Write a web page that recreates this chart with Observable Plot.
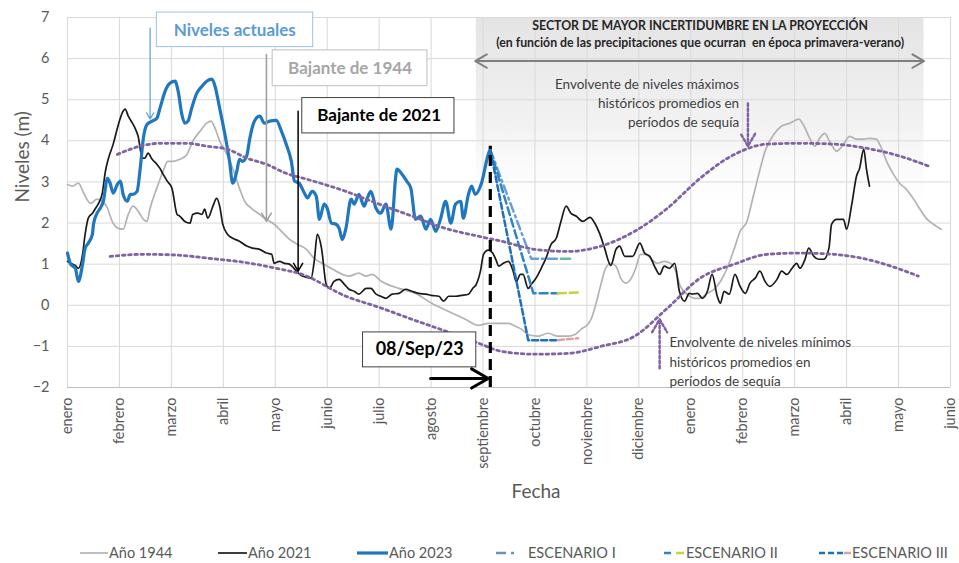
<!DOCTYPE html>
<html><head><meta charset="utf-8">
<script src="https://cdn.jsdelivr.net/npm/d3@7"></script>
<script src="https://cdn.jsdelivr.net/npm/@observablehq/plot@0.6"></script>
<style>
body{margin:0;background:#fff;font-family:Lato,"Open Sans",sans-serif;}
#chart{width:959px;height:563px;position:relative;overflow:hidden;}
#chart svg{display:block;}
.legend{position:relative;height:25px;margin-top:2px;}
.item{position:absolute;top:0;height:25px;display:flex;align-items:center;font-size:14.5px;color:#595959;white-space:nowrap;}
.item svg{margin-right:1px;}
</style></head>
<body><div id="chart"></div>
<script>
// ---------- data (x = months since enero, y = level in m) ----------
const monthLabels = ["enero","febrero","marzo","abril","mayo","junio","julio","agosto","septiembre","octubre","noviembre","diciembre","enero","febrero","marzo","abril","mayo","junio"];
const yTickValues = [-2,-1,0,1,2,3,4,5,6,7];

const ano1944 = [[0,2.94],[0.1,2.9],[0.21,2.97],[0.31,2.73],[0.44,2.48],[0.57,2.58],[0.67,2.53],[0.77,2.36],[0.86,2.04],[0.98,1.87],[1.07,1.85],[1.17,2.21],[1.26,2.41],[1.36,2.29],[1.46,2.09],[1.53,2.04],[1.59,2.36],[1.72,2.85],[1.84,3.26],[1.93,3.5],[2.03,3.5],[2.16,3.55],[2.3,3.67],[2.41,3.99],[2.55,4.23],[2.68,4.43],[2.76,4.48],[2.84,4.31],[2.93,3.99],[3.07,3.67],[3.18,3.33],[3.31,2.85],[3.41,2.53],[3.54,2.36],[3.7,2.21],[3.83,2.09],[3.95,2.0],[4.12,1.8],[4.27,1.61],[4.43,1.48],[4.6,1.36],[4.75,1.14],[4.94,1.0],[5.1,0.88],[5.42,0.71],[5.61,0.78],[5.75,0.71],[5.86,0.75],[6.05,0.58],[6.38,0.41],[6.7,0.29],[7.01,0.05],[7.34,-0.15],[7.66,-0.34],[7.91,-0.49],[8.1,-0.44],[8.3,-0.44],[8.49,-0.44],[8.62,-0.51],[8.74,-0.58],[8.87,-0.71],[9.06,-0.75],[9.25,-0.68],[9.44,-0.75],[9.64,-0.75],[9.77,-0.71],[9.89,-0.58],[10.02,-0.46],[10.08,-0.34],[10.17,0.02],[10.27,0.51],[10.36,0.9],[10.46,1.02],[10.56,0.95],[10.65,0.66],[10.75,0.54],[10.84,0.63],[10.94,0.9],[11.03,1.24],[11.13,1.24],[11.23,1.14],[11.36,1.02],[11.49,1.07],[11.61,1.02],[11.71,0.83],[11.8,0.46],[11.93,0.27],[12.07,0.17],[12.18,0.17],[12.32,0.29],[12.45,0.39],[12.57,0.58],[12.7,0.9],[12.84,1.39],[12.95,1.8],[13.08,2.04],[13.18,2.53],[13.31,3.19],[13.43,3.75],[13.6,4.16],[13.75,4.36],[13.91,4.43],[14.08,4.53],[14.18,4.36],[14.29,4.06],[14.39,3.87],[14.48,4.06],[14.58,4.18],[14.67,3.99],[14.81,3.75],[14.94,3.92],[15.06,4.11],[15.19,4.04],[15.33,4.04],[15.44,4.06],[15.57,4.04],[15.67,3.82],[15.77,3.5],[15.9,3.19],[16.02,2.97],[16.15,2.82],[16.28,2.6],[16.4,2.36],[16.53,2.12],[16.67,1.97],[16.82,1.85]];

const ano2021 = [[0,1.07],[0.06,1.02],[0.15,0.97],[0.21,0.9],[0.29,1.24],[0.34,1.73],[0.4,2.12],[0.48,2.24],[0.54,2.36],[0.59,2.46],[0.67,2.73],[0.73,3.26],[0.79,3.58],[0.88,3.92],[0.98,4.4],[1.05,4.67],[1.11,4.77],[1.17,4.6],[1.25,4.43],[1.3,4.31],[1.36,4.11],[1.44,3.58],[1.49,3.58],[1.55,3.7],[1.63,3.55],[1.72,3.43],[1.78,3.33],[1.84,3.19],[1.92,3.02],[2.01,2.85],[2.11,2.21],[2.16,2.17],[2.26,2.04],[2.36,2.0],[2.41,2.21],[2.51,2.24],[2.59,2.21],[2.64,2.34],[2.7,2.12],[2.8,2.41],[2.87,2.6],[2.93,2.41],[2.99,1.97],[3.08,1.73],[3.18,1.63],[3.31,1.56],[3.45,1.44],[3.56,1.39],[3.7,1.36],[3.83,1.27],[3.93,1.24],[3.98,1.02],[4.08,1.07],[4.18,1.02],[4.27,1.0],[4.41,0.83],[4.52,0.71],[4.69,0.66],[4.75,1.07],[4.81,1.73],[4.89,1.39],[4.98,0.51],[5.04,0.41],[5.13,0.58],[5.23,0.63],[5.33,0.51],[5.42,0.39],[5.52,0.34],[5.61,0.27],[5.75,0.41],[5.84,0.41],[5.94,0.27],[6.03,0.22],[6.13,0.17],[6.25,0.27],[6.38,0.29],[6.51,0.39],[6.63,0.34],[6.76,0.29],[6.9,0.27],[7.01,0.24],[7.15,0.22],[7.24,0.1],[7.34,0.22],[7.47,0.22],[7.59,0.24],[7.72,0.27],[7.8,0.41],[7.87,0.51],[7.95,0.83],[8.01,1.24],[8.1,1.34],[8.2,1.24],[8.26,1.07],[8.3,0.95],[8.39,1.02],[8.49,1.07],[8.58,0.83],[8.64,0.58],[8.72,0.75],[8.77,0.75],[8.87,0.41],[8.93,0.51],[9.02,0.66],[9.12,0.9],[9.21,1.14],[9.31,1.48],[9.41,1.63],[9.5,2.04],[9.6,2.41],[9.69,2.24],[9.79,2.17],[9.92,2.04],[10.06,2.14],[10.15,2.0],[10.25,1.73],[10.34,1.39],[10.46,0.97],[10.56,1.36],[10.63,1.44],[10.73,1.19],[10.88,1.19],[11.02,1.51],[11.11,1.27],[11.21,1.19],[11.32,0.9],[11.4,0.75],[11.49,0.95],[11.59,0.9],[11.69,1.02],[11.78,0.34],[11.88,0.1],[11.97,0.29],[12.03,0.27],[12.13,0.29],[12.22,0.17],[12.32,0.34],[12.41,0.75],[12.51,0.22],[12.57,0.05],[12.64,0.34],[12.74,0.27],[12.85,0.75],[12.95,0.46],[13.05,0.29],[13.14,0.54],[13.24,0.66],[13.33,0.83],[13.43,0.58],[13.52,0.46],[13.66,0.63],[13.75,0.83],[13.85,0.75],[13.95,0.9],[14.04,1.02],[14.1,0.9],[14.2,1.12],[14.27,1.39],[14.37,1.19],[14.46,1.12],[14.56,1.12],[14.66,1.39],[14.71,1.97],[14.81,2.09],[14.94,2.09],[15.0,1.85],[15.1,2.46],[15.19,3.14],[15.25,3.33],[15.33,3.8],[15.38,3.33],[15.44,2.9]];

const ano2023 = [[0,1.27],[0.06,1.0],[0.15,0.9],[0.21,0.58],[0.29,1.0],[0.34,1.39],[0.4,1.51],[0.48,1.73],[0.5,1.97],[0.57,2.24],[0.63,2.36],[0.69,2.53],[0.77,3.09],[0.82,2.97],[0.88,2.73],[0.96,2.94],[1.02,3.02],[1.07,2.7],[1.15,2.53],[1.21,2.7],[1.26,2.7],[1.34,2.77],[1.4,3.33],[1.46,4.06],[1.53,4.4],[1.63,4.48],[1.72,4.55],[1.78,4.79],[1.88,5.21],[1.97,5.4],[2.07,5.45],[2.13,5.21],[2.2,4.65],[2.26,4.43],[2.32,4.48],[2.39,4.79],[2.49,5.16],[2.59,5.33],[2.68,5.45],[2.78,5.5],[2.84,5.33],[2.93,4.79],[3.03,4.16],[3.12,3.5],[3.18,2.97],[3.26,3.26],[3.31,3.55],[3.37,3.5],[3.45,3.63],[3.51,4.06],[3.6,4.48],[3.7,4.6],[3.79,4.43],[3.89,4.48],[4.02,4.5],[4.12,4.23],[4.21,3.92],[4.31,3.5],[4.37,3.02],[4.46,2.97],[4.56,2.73],[4.62,2.61],[4.71,2.77],[4.79,2.65],[4.85,2.09],[4.94,2.46],[5.0,2.36],[5.08,2.0],[5.17,1.97],[5.23,1.87],[5.29,1.6],[5.36,1.87],[5.46,2.58],[5.52,2.46],[5.61,2.7],[5.71,2.41],[5.77,2.6],[5.84,2.77],[5.94,2.36],[6.03,2.24],[6.13,2.46],[6.23,1.85],[6.32,3.14],[6.34,3.31],[6.44,3.19],[6.53,3.02],[6.61,2.85],[6.7,2.09],[6.8,2.17],[6.9,1.85],[6.99,2.09],[7.09,1.8],[7.18,2.09],[7.28,2.53],[7.38,2.0],[7.47,2.46],[7.57,2.53],[7.62,2.12],[7.72,2.7],[7.78,2.9],[7.85,2.7],[7.97,2.97],[8.1,3.67],[8.14,3.8]];

const envMax = [[0.96,3.67],[1.4,3.87],[1.78,3.94],[2.3,3.94],[2.68,3.87],[3.07,3.8],[3.45,3.58],[3.83,3.43],[4.21,3.21],[4.6,3.07],[5.36,2.77],[6.0,2.46],[6.63,2.17],[7.28,1.87],[7.91,1.68],[8.35,1.56],[9.0,1.36],[9.64,1.31],[10.27,1.44],[10.92,1.8],[11.55,2.36],[12.18,3.09],[12.84,3.67],[13.47,3.92],[14.1,3.94],[14.75,3.92],[15.38,3.82],[16.02,3.63],[16.59,3.38]];
const envMin = [[0.82,1.19],[1.46,1.24],[2.11,1.22],[2.74,1.14],[3.37,1.05],[4.02,0.9],[4.52,0.75],[5.36,0.22],[6.0,-0.05],[6.63,-0.34],[7.28,-0.63],[7.91,-0.92],[8.35,-1.12],[9.0,-1.19],[9.64,-1.17],[10.27,-1.0],[10.92,-0.75],[11.55,-0.07],[12.18,0.66],[12.84,1.0],[13.47,1.24],[14.1,1.27],[14.75,1.24],[15.38,1.12],[16.02,0.88],[16.38,0.71]];

const escI   = [[8.14,3.78],[8.93,1.13],[9.44,1.13]];
const escItail = [[9.5,1.13],[9.73,1.13]];
const escII  = [[8.14,3.78],[8.97,0.29],[9.44,0.29]];
const escIItail = [[9.44,0.29],[9.83,0.31]];
const escIII = [[8.14,3.78],[8.87,-0.85],[9.44,-0.85]];
const escIIItail = [[9.44,-0.85],[9.83,-0.8]];

const dateLine = 8.14;       // 08/Sep/23
const sectorRange = [7.87, 16.49];

// ---------- helpers ----------
const pts = a => a.map(([m, v]) => ({m, v}));
const FONT = "Lato, 'Open Sans', sans-serif";
const purple = "#8064a2";

const plot = Plot.plot({
  width: 959, height: 538,
  marginLeft: 67, marginRight: 9, marginTop: 17, marginBottom: 151,
  x: {domain: [0, 17], axis: null},
  y: {domain: [-2, 7], axis: null},
  style: {fontFamily: FONT, background: "white", overflow: "visible"},
  marks: [
    // uncertainty sector shading
    Plot.rect([{x1: sectorRange[0], x2: sectorRange[1], y1: 2, y2: 7}], {x1: "x1", x2: "x2", y1: "y1", y2: "y2", fill: "url(#sectorGrad)"}),
    // gridlines
    Plot.ruleX(d3.range(0, 18), {stroke: "#d9d9d9", strokeWidth: 1}),
    Plot.ruleY(yTickValues, {stroke: "#d9d9d9", strokeWidth: 1}),
    Plot.ruleY([-2], {stroke: "#bfbfbf", strokeWidth: 1.2}),
    // axes
    Plot.axisY({ticks: yTickValues, tickSize: 0, tickPadding: 18, fontSize: 14.5, fill: "#595959", label: null}),
    Plot.axisX({ticks: d3.range(0, 18), tickFormat: i => monthLabels[i], tickRotate: -90, tickSize: 0, tickPadding: 10, fontSize: 14.5, fill: "#595959", label: null}),
    Plot.text(["Niveles (m)"], {frameAnchor: "left", dx: -45, rotate: -90, fontSize: 19, fill: "#595959"}),
    Plot.text(["Fecha"], {frameAnchor: "bottom", dx: 27, dy: 110, fontSize: 19, fill: "#595959"}),
    // sector title + double arrow
    Plot.text([{m: 12.18, v: 6.8}], {x: "m", y: "v", text: () => "SECTOR DE MAYOR INCERTIDUMBRE EN LA PROYECCIÓN", fontSize: 12.3, fontWeight: "bold", fill: "#262626"}),
    Plot.text([{m: 12.18, v: 6.38}], {x: "m", y: "v", text: () => "(en función de las precipitaciones que ocurran  en época primavera-verano)", fontSize: 12.3, fontWeight: "bold", fill: "#262626"}),
    Plot.arrow([{a: 12.18, b: sectorRange[0] - 0.02}, {a: 12.18, b: sectorRange[1]}], {x1: "a", x2: "b", y1: () => 5.94, y2: () => 5.94, stroke: "#7f7f7f", strokeWidth: 2, headLength: 10}),
    // series
    Plot.line(pts(ano1944), {x: "m", y: "v", stroke: "#b3b3b3", strokeWidth: 1.7, curve: "monotone-x"}),
    Plot.line(pts(ano2021), {x: "m", y: "v", stroke: "#1a1a1a", strokeWidth: 1.7, curve: "monotone-x"}),
    Plot.line(pts(escI), {x: "m", y: "v", stroke: "#6a9fd6", strokeWidth: 2.5, strokeDasharray: "9,4,2,4"}),
    Plot.line(pts(escItail), {x: "m", y: "v", stroke: "#5fbfa0", strokeWidth: 2.5, strokeDasharray: "9,4,2,4"}),
    Plot.line(pts(escII), {x: "m", y: "v", stroke: "#2c85c8", strokeWidth: 2.5, strokeDasharray: "8,4"}),
    Plot.line(pts(escIItail), {x: "m", y: "v", stroke: "#c6d33a", strokeWidth: 2.5, strokeDasharray: "8,4"}),
    Plot.line(pts(escIII), {x: "m", y: "v", stroke: "#1f70bb", strokeWidth: 2.5, strokeDasharray: "6,3"}),
    Plot.line(pts(escIIItail), {x: "m", y: "v", stroke: "#dba3a3", strokeWidth: 2.5, strokeDasharray: "6,3"}),
    Plot.line(pts(ano2023), {x: "m", y: "v", stroke: "#1f77c0", strokeWidth: 3.2, curve: "monotone-x"}),
    // envelopes
    Plot.line(pts(envMax), {x: "m", y: "v", stroke: purple, strokeWidth: 2.8, strokeDasharray: "2.6,3.6", curve: "monotone-x"}),
    Plot.line(pts(envMin), {x: "m", y: "v", stroke: purple, strokeWidth: 2.8, strokeDasharray: "2.6,3.6", curve: "monotone-x"}),
    // date marker
    Plot.ruleX([dateLine], {y1: -2, y2: 3.87, stroke: "#000", strokeWidth: 3.2, strokeDasharray: "11,6"}),
    // annotation boxes
    Plot.rect([{x1: 1.72, x2: 4.73, y1: 6.28, y2: 7.12}], {x1: "x1", x2: "x2", y1: "y1", y2: "y2", fill: "white", stroke: "#9dc3e6", strokeWidth: 1}),
    Plot.text([{m: 3.22, v: 6.69}], {x: "m", y: "v", text: () => "Niveles actuales", fontSize: 17, fontWeight: "bold", fill: "#5b9bd5"}),
    Plot.arrow([{m: 1.59, a: 6.74, b: 4.53}], {x: "m", y1: "a", y2: "b", stroke: "#5b9bd5", strokeWidth: 1.2, headLength: 9}),
    Plot.rect([{x1: 3.95, x2: 6.93, y1: 5.33, y2: 6.2}], {x1: "x1", x2: "x2", y1: "y1", y2: "y2", fill: "white", stroke: "#bfbfbf", strokeWidth: 1}),
    Plot.text([{m: 5.44, v: 5.77}], {x: "m", y: "v", text: () => "Bajante de 1944", fontSize: 17, fontWeight: "bold", fill: "#a6a6a6"}),
    Plot.arrow([{m: 3.83, a: 6.1, b: 2.04}], {x: "m", y1: "a", y2: "b", stroke: "#a0a0a0", strokeWidth: 1.6, headLength: 9}),
    Plot.rect([{x1: 4.52, x2: 7.45, y1: 4.18, y2: 5.04}], {x1: "x1", x2: "x2", y1: "y1", y2: "y2", fill: "white", stroke: "#404040", strokeWidth: 1}),
    Plot.text([{m: 6.0, v: 4.61}], {x: "m", y: "v", text: () => "Bajante de 2021", fontSize: 17, fontWeight: "bold", fill: "#000"}),
    Plot.arrow([{m: 4.44, a: 4.72, b: 0.83}], {x: "m", y1: "a", y2: "b", stroke: "#000", strokeWidth: 1.5, headLength: 9}),
    Plot.rect([{x1: 5.69, x2: 7.87, y1: -1.51, y2: -0.66}], {x1: "x1", x2: "x2", y1: "y1", y2: "y2", fill: "white", stroke: "#404040", strokeWidth: 1}),
    Plot.text([{m: 6.78, v: -1.08}], {x: "m", y: "v", text: () => "08/Sep/23", fontSize: 18, fontWeight: "bold", fill: "#000"}),
    Plot.arrow([{a: 6.99, b: 8.1, v: -1.78}], {x1: "a", x2: "b", y: "v", stroke: "#000", strokeWidth: 3, headLength: 10}),
    // envelope labels
    Plot.text([{m: 12.93, v: 4.94}], {x: "m", y: "v", text: () => "Envolvente de niveles máximos\nhistóricos promedios en\nperíodos de sequía", textAnchor: "end", lineHeight: 1.42, fontSize: 13.5, fill: "#404040"}),
    Plot.arrow([{m: 13.1, a: 4.91, b: 3.87}], {x: "m", y1: "a", y2: "b", stroke: purple, strokeWidth: 2.5, strokeDasharray: "2.5,2.5", headLength: 9}),
    Plot.text([{m: 11.59, v: -1.34}], {x: "m", y: "v", text: () => "Envolvente de niveles mínimos\nhistóricos promedios en\nperíodos de sequía", textAnchor: "start", lineHeight: 1.42, fontSize: 13.5, fill: "#404040"}),
    Plot.arrow([{m: 11.4, a: -1.53, b: -0.34}], {x: "m", y1: "a", y2: "b", stroke: purple, strokeWidth: 2.5, strokeDasharray: "2.5,2.5", headLength: 9})
  ]
});

// gradient definition for the shaded sector
const ns = "http://www.w3.org/2000/svg";
const defs = document.createElementNS(ns, "defs");
defs.innerHTML = '<linearGradient id="sectorGrad" x1="0" y1="0" x2="0" y2="1"><stop offset="0" stop-color="#e4e4e4"/><stop offset="0.55" stop-color="#f3f3f3"/><stop offset="1" stop-color="#ffffff" stop-opacity="0"/></linearGradient>';
plot.insertBefore(defs, plot.firstChild);

const chart = document.getElementById("chart");
chart.appendChild(plot);

// ---------- legend ----------
const legendItems = [
  {label: "Año 1944", left: 80, w: 28, segs: [{c: "#b3b3b3", dash: null, sw: 1.7}]},
  {label: "Año 2021", left: 218, w: 29, segs: [{c: "#1a1a1a", dash: null, sw: 1.7}]},
  {label: "Año 2023", left: 357, w: 31, segs: [{c: "#1f77c0", dash: null, sw: 3.2}]},
  {label: "ESCENARIO I", left: 496, w: 31, segs: [{c: "#6a8fb8", dash: "10,5,3,40", sw: 2.5}]},
  {label: "ESCENARIO II", left: 664, w: 21, segs: [{c: "#2c85c8", sw: 2.5, from: 0, to: 7}, {c: "#c6d33a", sw: 2.5, from: 12, to: 20}]},
  {label: "ESCENARIO III", left: 819, w: 32, segs: [{c: "#1f70bb", dash: "6,3", sw: 2.5, from: 0, to: 24}, {c: "#dba3a3", sw: 2.5, from: 25, to: 32}]}
];
const legend = document.createElement("div");
legend.className = "legend";
for (const it of legendItems) {
  const d = document.createElement("div");
  d.className = "item";
  d.style.left = it.left + "px";
  const s = document.createElementNS(ns, "svg");
  s.setAttribute("width", it.w);
  s.setAttribute("height", 10);
  for (const g of it.segs) {
    const l = document.createElementNS(ns, "line");
    l.setAttribute("x1", g.from ?? 0); l.setAttribute("x2", g.to ?? it.w);
    l.setAttribute("y1", 5); l.setAttribute("y2", 5);
    l.setAttribute("stroke", g.c); l.setAttribute("stroke-width", g.sw);
    if (g.dash) l.setAttribute("stroke-dasharray", g.dash);
    s.appendChild(l);
  }
  d.appendChild(s);
  const t = document.createElement("span");
  t.textContent = it.label;
  d.appendChild(t);
  legend.appendChild(d);
}
chart.appendChild(legend);
</script>
</body></html>
